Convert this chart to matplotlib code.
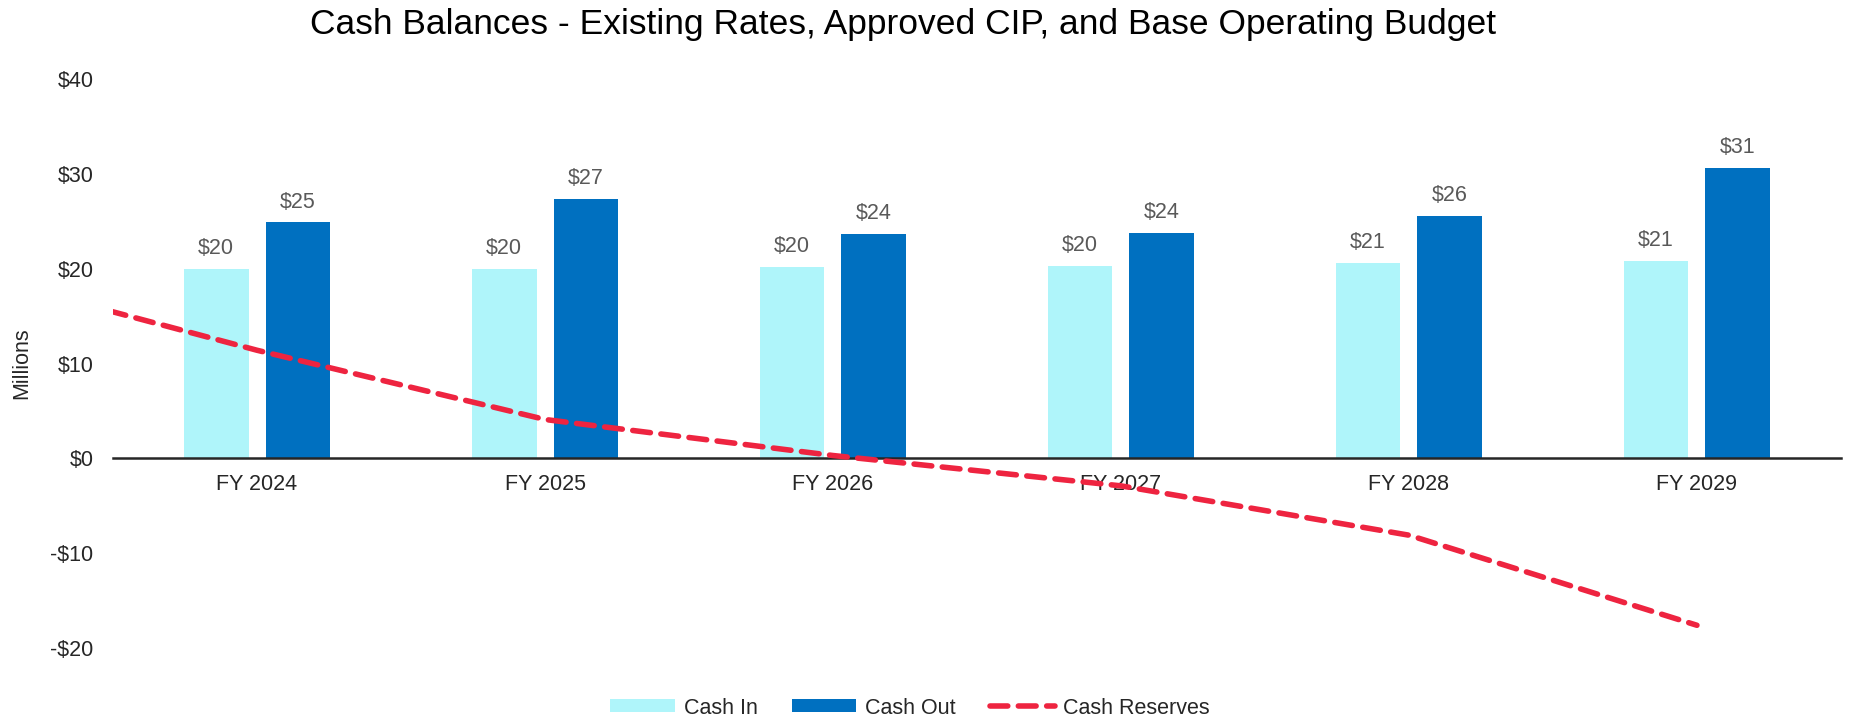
"""cash balances chart: existing rates, approved CIP, base operating budget.

grouped bars (cash in / cash out) per fiscal year plus a dashed line for
cash reserves. reserves list starts with the FY 2023 closing balance, which
sits half a category left of the axes and gets clipped at the left edge.
"""
import numpy as np
import matplotlib
matplotlib.use("Agg")
import matplotlib.pyplot as plt
from matplotlib.ticker import FuncFormatter

plt.rcParams["font.family"] = ["Liberation Sans", "DejaVu Sans"]

# data (millions)
years = ["FY 2024", "FY 2025", "FY 2026", "FY 2027", "FY 2028", "FY 2029"]
cash_in = [20.0, 20.0, 20.2, 20.3, 20.6, 20.8]
cash_out = [24.9, 27.4, 23.7, 23.8, 25.6, 30.6]
reserve_years = ["FY 2023"] + years
cash_reserves = [19.5, 11.4, 4.1, 0.3, -2.9, -8.1, -17.6]

C_IN = "#AFF5FA"
C_OUT = "#0070C0"
C_RES = "#EE2440"
TXT = "#262626"
LBL = "#595959"
FS = 15.5


def money(v, _pos=None):
    return f"-${abs(v):.0f}" if v < 0 else f"${v:.0f}"


fig = plt.figure(figsize=(18.5, 7.21), dpi=100)
ax = fig.add_axes([0.0611, 0.1012, 0.934, 0.7892])

x = np.arange(len(years))
w = 0.225
off = 0.142
b_in = ax.bar(x - off, cash_in, w, color=C_IN, label="Cash In", zorder=2)
b_out = ax.bar(x + off, cash_out, w, color=C_OUT, label="Cash Out", zorder=2)

for bars in (b_in, b_out):
    ax.bar_label(bars, labels=[money(v) for v in bars.datavalues],
                 padding=7, fontsize=FS, color=LBL)

# reserves: first point is the prior-year balance, one category to the left
rx = np.arange(len(reserve_years)) - 1
(ln,) = ax.plot(rx, cash_reserves, color=C_RES, linewidth=4.0,
                linestyle=(0, (3.2, 1.9)), dash_capstyle="round",
                label="Cash Reserves", zorder=4)

ax.set_xlim(-0.5, len(years) - 0.5)
ax.set_ylim(-20, 40)
ax.set_xticks(x)
ax.set_xticklabels(years)
ax.set_yticks(np.arange(-20, 41, 10))
ax.yaxis.set_major_formatter(FuncFormatter(money))
ax.tick_params(axis="both", length=0, labelsize=FS, labelcolor=TXT)
ax.tick_params(axis="x", pad=11)
ax.tick_params(axis="y", pad=14)

for side in ("left", "right", "top"):
    ax.spines[side].set_visible(False)
ax.spines["bottom"].set_position(("data", 0))
ax.spines["bottom"].set_color(TXT)
ax.spines["bottom"].set_linewidth(1.8)
ax.spines["bottom"].set_zorder(3)

ax.set_ylabel("Millions", fontsize=FS, color=TXT)
ax.yaxis.set_label_coords(-0.047, 0.5)

fig.text(0.488, 0.966, "Cash Balances - Existing Rates, Approved CIP, and Base Operating Budget",
         ha="center", va="center", fontsize=25.5, color="black")

fig.legend(handles=[b_in, b_out, ln], loc="center", bbox_to_anchor=(0.492, 0.018),
           ncol=3, frameon=False, fontsize=FS, handlelength=3.0, handleheight=0.55,
           columnspacing=1.6, handletextpad=0.4, labelcolor=TXT)

fig.savefig("out.png", dpi=100)
